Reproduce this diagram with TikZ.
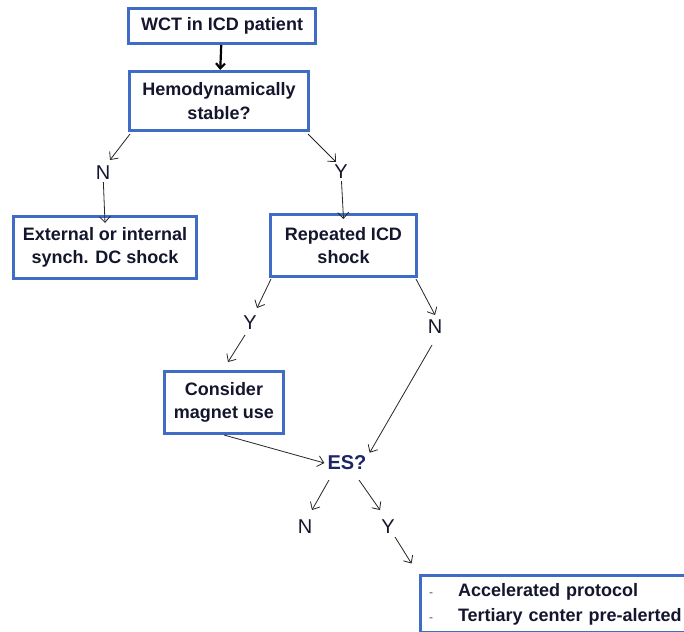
\documentclass[tikz,border=0pt]{standalone}
\usepackage{fontspec}
\setmainfont{Liberation Sans}
\usetikzlibrary{arrows.meta}
\definecolor{boxblue}{RGB}{63,108,196}
\definecolor{txtnavy}{RGB}{20,22,45}
\definecolor{esnavy}{RGB}{28,38,100}
\tikzset{
  box/.style={draw=boxblue, line width=3pt, fill=white, align=center, inner sep=2pt,
    font=\fontsize{18}{23.5}\selectfont\bfseries, text=txtnavy},
  lbl/.style={font=\fontsize{20}{22}\selectfont, text=txtnavy, inner sep=2pt},
  arr/.style={draw=black!85, line width=0.8pt, -{Straight Barb[length=6pt,width=11pt]}},
  bigarr/.style={draw=black, line width=2.2pt, -{Straight Barb[length=5pt,width=9pt]}}
}
\begin{document}
\begin{tikzpicture}[x=1pt,y=-1pt]
\useasboundingbox[fill=white] (0,0) rectangle (684,631);
\clip (0,0) rectangle (684,631);
\node[box, minimum width=187pt, minimum height=35pt] (wct) at (222,26) {WCT in ICD patient};
\node[box, minimum width=179pt, minimum height=59pt] (hemo) at (219,101) {Hemodynamically\\stable?};
\node[box, minimum width=183pt, minimum height=62pt] (ext) at (105,247.5) {External or internal\\synch. DC shock};
\node[box, minimum width=146pt, minimum height=62pt] (rep) at (343.5,245.5) {Repeated ICD\\shock};
\node[box, minimum width=119pt, minimum height=62pt] (cons) at (224,402.5) {Consider\\magnet use};
\node[lbl] (n1) at (103,173) {N};
\node[lbl] (y1) at (341,172) {Y};
\node[lbl] (y2) at (250,323) {Y};
\node[lbl] (n2) at (435,327) {N};
\node[font=\fontsize{20}{22}\selectfont\bfseries, text=esnavy, inner sep=3pt] (es) at (347,463) {ES?};
\node[lbl] (n3) at (305,527) {N};
\node[lbl] (y3) at (388,527) {Y};
\node[draw=boxblue, line width=3pt, fill=white, anchor=north west, inner xsep=9pt, inner ysep=8pt,
  text width=272pt, align=left, text=txtnavy, font=\fontsize{18}{25}\selectfont\bfseries]
  (fin) at (418.5,573.5)
  {\makebox[29pt][l]{\fontsize{12}{25}\selectfont\mdseries\color{black!70}-}Accelerated protocol\\
   \makebox[29pt][l]{\fontsize{12}{25}\selectfont\mdseries\color{black!70}-}Tertiary center pre-alerted};
\draw[bigarr] (wct) -- (hemo);
\draw[arr] ([shift={(2,2)}]hemo.south west) -- ([shift={(7,-13)}]n1.center);
\draw[arr] (n1) -- ([yshift=-8]ext.north);
\draw[arr] ([shift={(-2,2)}]hemo.south east) -- ([shift={(-5,-10)}]y1.center);
\draw[arr] (y1) -- ([yshift=-6]rep.north);
\draw[arr] ([shift={(2,1)}]rep.south west) -- ([shift={(7,-15)}]y2.center);
\draw[arr] ([shift={(-5,12)}]y2.center) -- ([shift={(4,-8)}]cons.north);
\draw[arr] ([shift={(-2,1)}]rep.south east) -- ([shift={(0,-12)}]n2.center);
\draw[arr] ([shift={(-3,18)}]n2.center) -- (es.north east);
\draw[arr] (cons.south) -- (es.west);
\draw[arr] ([shift={(-18,17)}]es.center) -- ([shift={(7,-17)}]n3.center);
\draw[arr] ([shift={(12,17)}]es.center) -- ([shift={(-8,-17)}]y3.center);
\draw[arr] ([shift={(7,10)}]y3.center) -- ([shift={(-7,-10)}]fin.north west);
\end{tikzpicture}
\end{document}
